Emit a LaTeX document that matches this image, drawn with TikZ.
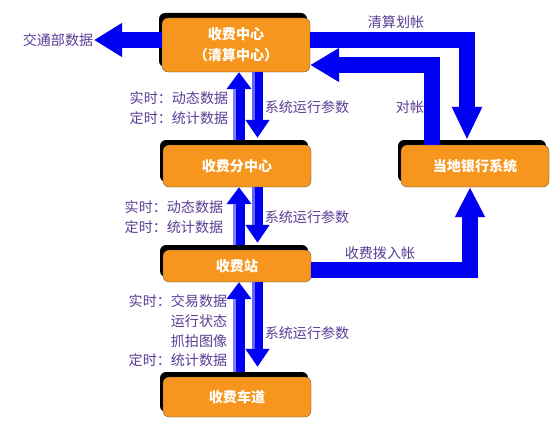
\documentclass[tikz,border=0pt]{standalone}
\usepackage{fontspec}
\setmainfont{Noto Sans CJK SC}
\usepackage{tikz}
\usetikzlibrary{arrows.meta,calc,positioning,shadows}
\definecolor{tollorange}{HTML}{F7961E}
\definecolor{tollpurple}{HTML}{5A3E96}
\definecolor{tollblue}{HTML}{0000F2}

\begin{document}
\begin{tikzpicture}[x=0.5mm, y=-0.5mm,
  stage/.style={draw=black!70, thin, rounded corners=3mm, fill=tollorange,
                minimum width=74mm, align=center, text=white,
                font=\fontsize{20}{30}\selectfont\bfseries,
                drop shadow={shadow xshift=-1.5mm, shadow yshift=2.5mm, fill=black, opacity=1}},
  note/.style={font=\fontsize{20}{29}\selectfont, text=tollpurple, inner sep=1pt},
  bigarrow/.style={draw=tollblue, line width=8mm, line join=miter},
  uplink/.style={draw=tollblue, line width=6mm, -{Triangle[length=8.5mm,width=12mm]},
                 postaction={draw=white, opacity=0.5, line width=1.5mm, -, shorten >=8.5mm,
                             transform canvas={xshift=-2.2mm}}},
  downlink/.style={draw=tollblue, line width=5.5mm, -{Triangle[length=9mm,width=11.5mm]},
                   postaction={draw=white, opacity=0.4, line width=1.5mm, -, shorten >=9mm,
                               transform canvas={xshift=-1.9mm}}},
]
  \fill[white] (0,0) rectangle (560,427);
  \useasboundingbox (0,0) rectangle (560,427);

  % Boxes -------------------------------------------------------------------
  \node[stage, minimum height=27mm] (center) at (236,45) {收费中心\\（清算中心）};
  \node[stage, minimum height=21mm] (sub) at (237,166) {收费分中心};
  \node[stage, minimum height=16mm] (station) at (237,266) {收费站};
  \node[stage, minimum height=20mm] (lane) at (237,397) {收费车道};
  \node[stage, minimum height=21mm] (bank) at (475,166) {当地银行系统};

  % Center <-> sub ----------------------------------------------------------
  \draw[uplink] ($(sub.north)+(2,-5)$) -- ($(center.south)+(3,0)$);
  \draw[downlink] ($(center.south)+(21.5,0)$) -- ($(sub.north)+(20.5,-7)$);
  \node[note, anchor=east, align=right] (upnoteA) at (229,108) {实时：动态数据\\定时：统计数据};
  \node[note, anchor=west] (downnoteA) at (264,107) {系统运行参数};

  % Sub <-> station ---------------------------------------------------------
  \draw[uplink] ($(station.north)+(2,-5)$) -- ($(sub.south)+(2,0)$);
  \draw[downlink] ($(sub.south)+(20.5,0)$) -- ($(station.north)+(20.5,-7)$);
  \node[note, anchor=east, align=right] (upnoteB) at (224,217) {实时：动态数据\\定时：统计数据};
  \node[note, anchor=west] (downnoteB) at (264,217) {系统运行参数};

  % Station <-> lane --------------------------------------------------------
  \draw[uplink] ($(lane.north)+(2,-5)$) -- ($(station.south)+(2,0)$);
  \draw[downlink] ($(station.south)+(20.5,0)$) -- ($(lane.north)+(20.5,-10)$);
  \node[note, anchor=east, align=right, font=\fontsize{20}{28}\selectfont] (upnoteC) at (228,331)
    {实时：交易数据\\运行状态\\抓拍图像\\定时：统计数据};
  \node[note, anchor=west] (downnoteC) at (264,333) {系统运行参数};

  % Traffic data ------------------------------------------------------------
  \coordinate (trafficend) at (95,40);
  \node[note, left=0.5mm of trafficend] (traffic) {交通部数据};
  \draw[bigarrow, -{Triangle[length=14mm,width=16mm]}] ($(center.west)+(0,-5)$) -- (traffic.east);

  % Bank --------------------------------------------------------------------
  \draw[bigarrow, -{Triangle[length=16.5mm,width=14mm]}] ($(center.east)+(0,-5)$) -| ($(bank.north)+(-8,-5)$);
  \node[note] (clearnote) at (396,22) {清算划帐};
  \draw[bigarrow, -{Triangle[length=14.5mm,width=16mm]}] ($(bank.north)+(-43,0)$) |- ($(center.east)+(0,20)$);
  \node[note] (checknote) at (410,107) {对帐};
  \draw[bigarrow, -{Triangle[length=15mm,width=14mm]}] ($(station.east)+(0,4)$) -| ($(bank.south)+(-5,0)$);
  \node[note] (feenote) at (380,253) {收费拨入帐};
\end{tikzpicture}
\end{document}
